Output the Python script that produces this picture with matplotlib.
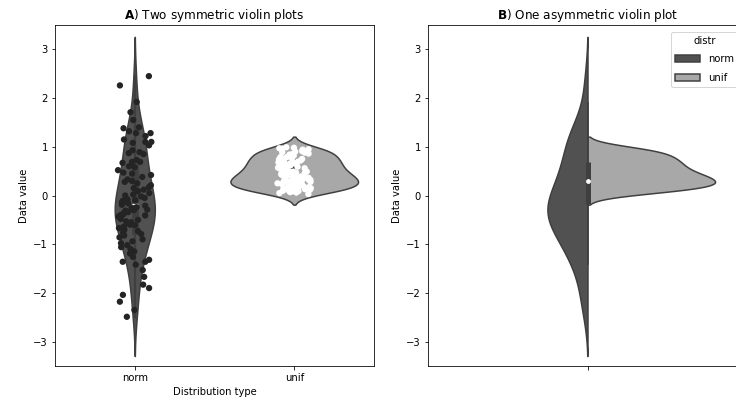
import numpy as np
import pandas as pd
import matplotlib
matplotlib.use("Agg")
import matplotlib.pyplot as plt
import seaborn as sns

# Sample values for the two distributions
norm_vals = [2.45, 2.26, 1.92, 1.71, 1.55, 1.40, 1.38, 1.32, 1.28, 1.28,
             1.22, 1.15, 1.10, 1.10, 1.08, 1.03, 0.93, 0.89, 0.87, 0.85,
             0.73, 0.69, 0.69, 0.67, 0.60, 0.58, 0.52, 0.47, 0.45, 0.42,
             0.38, 0.33, 0.30, 0.28, 0.25, 0.21, 0.17, 0.15, 0.12, 0.09,
             0.05, 0.02, 0.00, -0.02, -0.05, -0.08, -0.10, -0.11, -0.14, -0.16,
             -0.19, -0.21, -0.24, -0.26, -0.29, -0.30, -0.31, -0.34, -0.36, -0.38,
             -0.40, -0.41, -0.43, -0.45, -0.48, -0.50, -0.53, -0.55, -0.58, -0.60,
             -0.61, -0.64, -0.67, -0.70, -0.73, -0.76, -0.79, -0.82, -0.86, -0.90,
             -0.94, -0.98, -1.02, -1.06, -1.10, -1.15, -1.19, -1.26, -1.32, -1.36,
             -1.36, -1.42, -1.53, -1.67, -1.83, -1.90, -2.04, -2.18, -2.35, -2.49]
unif_vals = [0.03, 0.05, 0.06, 0.07, 0.08, 0.09, 0.10,
             0.11, 0.12, 0.12, 0.13, 0.14, 0.15, 0.16, 0.16, 0.17, 0.18, 0.19, 0.19,
             0.20, 0.21, 0.22, 0.22, 0.23, 0.24, 0.25, 0.25, 0.26, 0.27, 0.28, 0.29, 0.29,
             0.30, 0.31, 0.32, 0.32, 0.33, 0.34, 0.35, 0.35, 0.36, 0.37, 0.38, 0.39, 0.39,
             0.40, 0.41, 0.42, 0.43, 0.44, 0.45, 0.46, 0.47, 0.48, 0.49, 0.49,
             0.50, 0.51, 0.53, 0.54, 0.55, 0.56, 0.57, 0.58, 0.59, 0.59,
             0.61, 0.62, 0.63, 0.65, 0.66, 0.67, 0.68, 0.69, 0.69,
             0.70, 0.72, 0.73, 0.74, 0.75, 0.76, 0.78, 0.79, 0.79,
             0.81, 0.82, 0.84, 0.85, 0.86, 0.88, 0.89,
             0.90, 0.91, 0.92, 0.94, 0.95, 0.96, 0.97, 0.98, 0.99]
distr_names = ["norm", "unif"]

violin_colors = ["#515151", "#a8a8a8"]
point_colors = ["#242424", "white"]
edge_color = "#3f3f3f"

df = pd.DataFrame({
    "distr": ["norm"] * len(norm_vals) + ["unif"] * len(unif_vals),
    "value": norm_vals + unif_vals,
})
df["grp"] = ""


def jitter(n, width=0.1):
    # fixed hash-style jitter so the strip looks scattered but is repeatable
    k = np.arange(1, n + 1)
    frac = (np.sin(k * 12.9898) * 43758.5453) % 1
    return (frac - 0.5) * 2 * width


fig = plt.figure(figsize=(736 / 72, 404 / 72), dpi=72)
ax1 = fig.add_axes([55 / 736, 38 / 404, 319 / 736, 341 / 404])
ax2 = fig.add_axes([428 / 736, 38 / 404, 319 / 736, 341 / 404])

# A) two violins side by side, with the points on top
sns.violinplot(data=df, x="distr", y="value", hue="distr", palette=violin_colors,
               legend=False, saturation=1, common_norm=True,
               linecolor=edge_color, linewidth=1.5, ax=ax1)
for i, vals in enumerate([norm_vals, unif_vals]):
    ax1.scatter(i + jitter(len(vals), 0.105), vals, s=40, color=point_colors[i],
                edgecolor="none", zorder=3)
ax1.set_xlim(-0.5, 1.5)
ax1.set_ylim(-3.5, 3.5)
ax1.set_xlabel("Distribution type")
ax1.set_ylabel("Data value")
ax1.set_title(r"$\bf{A}$) Two symmetric violin plots", fontsize=12)

# B) one split violin, box of the pooled data in the middle
sns.violinplot(data=df, x="grp", y="value", hue="distr", split=True, inner=None,
               palette=violin_colors, saturation=1, common_norm=True,
               linecolor=edge_color, linewidth=1.5, ax=ax2)
allv = np.array(df["value"])
q1, med, q3 = np.percentile(allv, [25, 50, 75])
iqr = q3 - q1
lo = allv[allv >= q1 - 1.5 * iqr].min()
hi = allv[allv <= q3 + 1.5 * iqr].max()
ax2.vlines(0, lo, hi, color=edge_color, lw=1.5, zorder=3)
ax2.vlines(0, q1, q3, color=edge_color, lw=5, zorder=3)
ax2.scatter([0], [med], s=14, color="white", zorder=4)
ax2.set_xlim(-0.5, 0.5)
ax2.set_ylim(-3.5, 3.5)
ax2.set_xlabel("")
ax2.set_ylabel("Data value")
ax2.set_title(r"$\bf{B}$) One asymmetric violin plot", fontsize=12)
sns.move_legend(ax2, "upper right", bbox_to_anchor=(0.972, 0.98), borderaxespad=0,
                title="distr", labelspacing=0.85, handlelength=2.5)

fig.savefig("out.png", dpi=72)
